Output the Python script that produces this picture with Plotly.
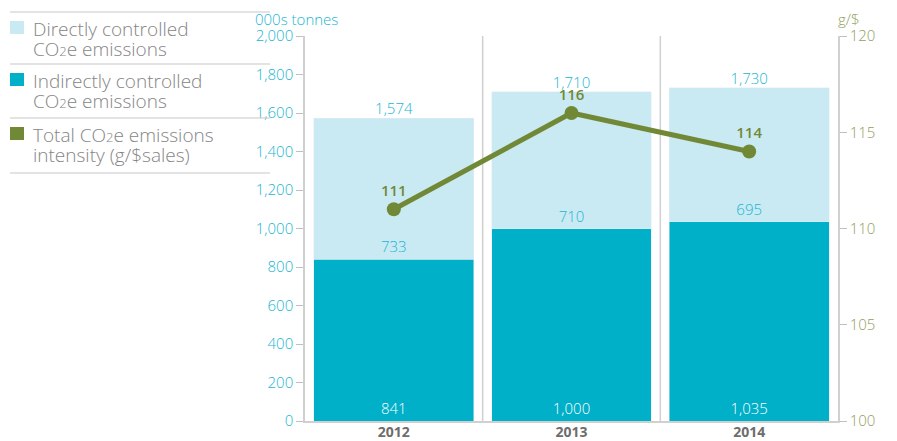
import plotly.graph_objects as go

years = ["2012", "2013", "2014"]
indirect = [841, 1000, 1035]
direct = [733, 710, 695]
totals = [1574, 1710, 1730]
intensity = [111, 116, 114]
left_ticks = [0, 200, 400, 600, 800, 1000, 1200, 1400, 1600, 1800, 2000]
right_ticks = [100, 105, 110, 115, 120]

LIGHT = "#c9eaf2"
DARK = "#00afc8"
GREEN = "#718936"
CYAN_TXT = "#22b5d2"
GREEN_TXT = "#8fa060"
GRAY = "#858585"
FONT = "Open Sans"
W = 300

fig = go.Figure()
fig.add_trace(go.Bar(x=years, y=indirect, marker_color=DARK, width=0.9,
                     text=[f"{v:,}" for v in indirect], textposition="inside",
                     insidetextanchor="start", textangle=0,
                     textfont=dict(color="white", size=15, family=FONT, weight=W),
                     hoverinfo="skip", showlegend=False))
fig.add_trace(go.Bar(x=years, y=direct, marker_color=LIGHT, width=0.9,
                     text=[f"{v:,}" for v in direct], textposition="inside",
                     insidetextanchor="start", textangle=0,
                     textfont=dict(color=CYAN_TXT, size=15, family=FONT, weight=W),
                     hoverinfo="skip", showlegend=False))
fig.add_trace(go.Scatter(x=years, y=totals, mode="text",
                         text=[f"{v:,}" for v in totals], textposition="top center",
                         textfont=dict(color=CYAN_TXT, size=15, family=FONT, weight=W),
                         hoverinfo="skip", showlegend=False))
fig.add_trace(go.Scatter(x=years, y=intensity, yaxis="y2", mode="lines+markers+text",
                         line=dict(color=GREEN, width=5),
                         marker=dict(color=GREEN, size=14),
                         text=[str(v) for v in intensity], textposition="top center",
                         textfont=dict(color=GREEN, size=15, family=FONT, weight=600),
                         hoverinfo="skip", showlegend=False))

fig.update_layout(
    width=897, height=441, barmode="stack",
    margin=dict(l=305, r=59, t=36, b=20, autoexpand=False),
    plot_bgcolor="white", paper_bgcolor="white",
    font=dict(family=FONT),
    xaxis=dict(type="category", showgrid=False, showline=True, linecolor="#d0d0d0",
               linewidth=1.5, ticks="", automargin=False, ticklabelstandoff=-3,
               tickfont=dict(color="#6d6d6d", size=14, weight=700),
               range=[-0.5, 2.5], fixedrange=True),
    yaxis=dict(range=[0, 2000], tickvals=left_ticks, automargin=False,
               ticktext=[f"{v:,}" for v in left_ticks], showgrid=False,
               showline=True, linecolor="#d0d0d0", linewidth=1.5,
               ticks="outside", ticklen=7, tickcolor="#c0c0c0",
               tickfont=dict(color=CYAN_TXT, size=15, weight=W), zeroline=False),
    yaxis2=dict(range=[100, 120], tickvals=right_ticks, overlaying="y", side="right",
                automargin=False, showgrid=False, showline=True, linecolor="#d0d0d0",
                linewidth=1.5, ticks="outside", ticklen=7, tickcolor="#c0c0c0",
                tickfont=dict(color=GREEN_TXT, size=15, weight=W), zeroline=False),
)

# category separators
for xs in [0.5, 1.5]:
    fig.add_shape(type="line", xref="x", yref="paper", x0=xs, x1=xs, y0=0, y1=1,
                  line=dict(color="#d0d0d0", width=1.5), layer="below")

PW = 897 - 305 - 59
PH = 441 - 36 - 20


def px(x):
    return (x - 305) / PW


def py(y):
    return 1 - (y - 36) / PH


fig.add_annotation(text="000s tonnes", xref="paper", yref="paper", x=px(253), y=py(19),
                   xanchor="left", yanchor="middle", showarrow=False,
                   font=dict(color=CYAN_TXT, size=15, weight=W))
fig.add_annotation(text="g/$", xref="paper", yref="paper", x=px(836), y=py(19),
                   xanchor="left", yanchor="middle", showarrow=False,
                   font=dict(color=GREEN_TXT, size=15, weight=W))

# custom legend
sub2 = "CO<span style='font-size:13px'>2</span>e"
legend_items = [
    (LIGHT, "Directly controlled", sub2 + " emissions"),
    (DARK, "Indirectly controlled", sub2 + " emissions"),
    (GREEN, "Total " + sub2 + " emissions", "intensity (g/$sales)"),
]
sep_y = [12, 64, 118, 173]
for yy in sep_y:
    fig.add_shape(type="line", xref="paper", yref="paper",
                  x0=px(10), x1=px(270), y0=py(yy), y1=py(yy),
                  line=dict(color="#c8c8c8", width=1.2))
for i, (col, l1, l2) in enumerate(legend_items):
    top = sep_y[i]
    fig.add_shape(type="rect", xref="paper", yref="paper",
                  x0=px(10), x1=px(24), y0=py(top + 22), y1=py(top + 9),
                  fillcolor=col, line=dict(width=0))
    for j, line in enumerate([l1, l2]):
        fig.add_annotation(text=line, xref="paper", yref="paper",
                           x=px(31), y=py(top + 17 + 20 * j),
                           xanchor="left", yanchor="middle", align="left", showarrow=False,
                           font=dict(color=GRAY, size=19, weight=W))

fig.write_html("out.html", config={"displayModeBar": False},
               post_script="document.body.style.margin='0';")
